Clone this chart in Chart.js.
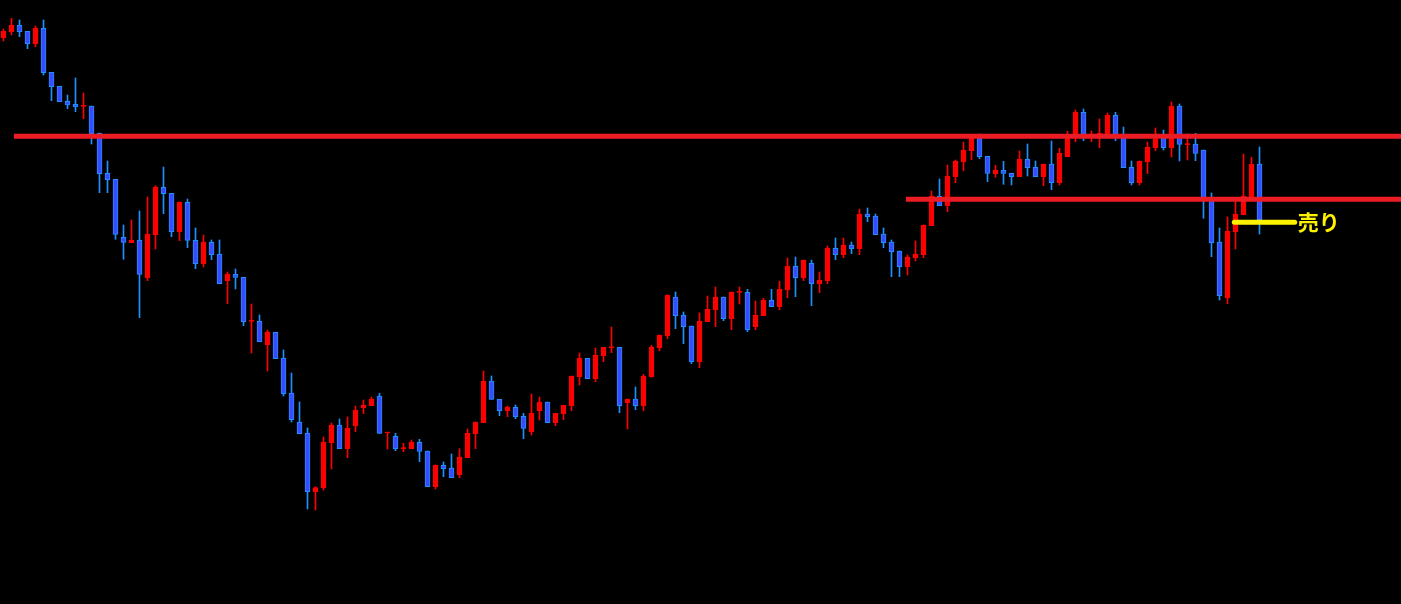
<!DOCTYPE html>
<html>
<head>
<meta charset="utf-8">
<script src="https://cdn.jsdelivr.net/npm/chart.js@4/dist/chart.umd.min.js"></script>
<style>
  html, body { margin: 0; padding: 0; background: #000; }
  #wrap { width: 1401px; height: 604px; }
</style>
</head>
<body>
<div id="wrap"><canvas id="candleChart"></canvas></div>
<script>
// OHLC per bar (price units)
var open = [
  562.3, 568.3, 574.7, 568.7, 556, 571.7, 527.7, 513.7, 498.7, 495.7,
  493.7, 494, 466.7, 426.7, 420.7, 362.7, 357.3, 360, 322.3, 365,
  412.7, 406.7, 368.3, 397.7, 359.7, 336.3, 357.7, 346, 319.3, 325.7,
  322.7, 278.7, 278.7, 255.3, 267.7, 242, 207, 178, 167, 108.3,
  112, 157.3, 175, 151.3, 174.3, 192.3, 194.3, 204, 167, 163.7,
  151.3, 151.3, 157.7, 149, 113.3, 134.7, 132, 125, 142.3, 166.3,
  177.3, 219, 200.7, 189.3, 192.7, 183.7, 168.3, 189, 198, 177.3,
  186.3, 194.3, 223.3, 241.7, 221, 244.3, 252.3, 252.7, 197.3, 201,
  194.3, 223, 252, 264.3, 303, 285, 274, 238.3, 278.3, 290.3,
  303, 281.3, 307.7, 307.7, 273.3, 284.3, 299.7, 293.3, 310.3, 333.7,
  322.3, 336.7, 316.3, 319.3, 351.7, 345.3, 355, 351.3, 386, 384,
  366, 358, 349, 333.3, 342.3, 345, 374.3, 403.7, 394.3, 423.3,
  438.3, 449, 462, 443.7, 426.3, 429.7, 426.7, 423.3, 440.7, 432.7,
  423.3, 436, 417.3, 443.3, 463.5, 487.7, 465, 464, 464, 484.7,
  464, 432.7, 417.3, 438.3, 452.3, 465, 452.3, 494, 455.3, 456,
  450, 400, 358, 302.3, 368.3, 385.3, 403, 436
];
var high = [
  571, 581.7, 580, 568.7, 574, 580, 527.7, 513.7, 505, 522,
  507, 494, 467, 439, 420.7, 375, 380, 389, 403, 414.3,
  433, 406.7, 398, 401, 372, 365, 360, 360, 328, 331,
  322.7, 296, 285, 270, 267.7, 250, 227, 198, 172, 113.3,
  163, 177, 181, 183, 194, 200, 203, 206.7, 168, 166.7,
  156.7, 160, 160.7, 149, 135, 138, 146, 151.3, 171, 178,
  229, 224, 200.7, 194, 195, 186.7, 206, 203, 198, 186.7,
  194.7, 224, 247, 241.7, 252, 252.7, 273, 252.7, 201, 213,
  225.7, 254.7, 265, 305, 308, 288, 274, 287, 304, 313,
  303, 308, 313, 310.7, 299, 301.7, 310.7, 318.7, 342, 343,
  340, 340, 328, 354, 362, 362, 358, 391, 392, 386,
  372, 360, 349, 345, 359, 375, 409, 421, 435, 440,
  458, 465, 466, 443.7, 434.7, 438.7, 426.7, 449, 456, 439,
  436, 459, 451.7, 468.7, 490, 491, 469, 481, 487, 487.7,
  473, 439, 439, 458, 472, 470, 498, 496, 466, 466.7,
  450, 407, 372, 383, 398.3, 446, 442.7, 453
];
var low = [
  559, 565, 563.3, 551.3, 553.3, 525, 499.3, 498.3, 491.3, 488.3,
  481.3, 456, 407.3, 407.3, 360.7, 340.7, 357.3, 282.3, 319.3, 351,
  386.3, 363.3, 359.3, 352.3, 331.3, 333, 340.3, 316.3, 296.3, 311,
  274.3, 247, 258.3, 229, 241.3, 204, 178, 166.3, 91, 90,
  110, 131, 151.3, 142.3, 168.3, 186.3, 194.3, 166.7, 151, 149.3,
  148.3, 151.3, 138.3, 113.3, 111, 123.3, 122.3, 122.3, 142.3, 151.3,
  177.3, 200.7, 184.3, 183.3, 181.3, 161.3, 165, 180, 177.3, 174.3,
  180.3, 189.3, 215, 221.3, 218.3, 238.3, 247.3, 187.3, 171, 190.3,
  189.3, 223, 249.3, 261.3, 271.3, 256.3, 236.3, 232.3, 278.3, 273.3,
  279.3, 270.3, 296, 268.3, 270.3, 284.3, 293.3, 290.3, 302.3, 303.3,
  319.3, 294.3, 307.3, 316.3, 340.3, 342.3, 346.3, 345.3, 378.3, 365.3,
  352.3, 323.3, 323.3, 325, 339, 342.3, 374.3, 394.3, 388.3, 417.3,
  429.3, 440.3, 441.3, 418.3, 422.7, 415.7, 415, 423.3, 424, 423.3,
  414.3, 410.3, 415, 443.3, 458.3, 459.3, 458.3, 452.3, 463, 459.3,
  432.3, 415, 415, 426.3, 449.3, 450, 443, 439, 440, 439.3,
  381.7, 343.3, 300, 296.3, 351, 385.3, 401, 366
];
var close = [
  569, 575, 568.3, 556.3, 572, 527.3, 513.3, 498.3, 495, 493.3,
  494.3, 466, 426.3, 420.3, 365.7, 357.7, 360, 325.7, 366, 413,
  406.3, 368.3, 398, 359.7, 336.3, 358, 345.3, 316.3, 326, 322.7,
  278.3, 279.3, 258.3, 268, 241.3, 206.3, 180.3, 166.3, 108.3, 112.3,
  158, 175, 151.3, 172, 190, 195, 201, 166.7, 167.7, 151.3,
  152, 158, 148.7, 113.3, 135, 131.3, 122.3, 143, 167, 178,
  219, 200.7, 189.3, 193, 183.3, 171.7, 186.7, 198, 177.3, 186.7,
  194.7, 224, 241.7, 221.3, 245, 252.7, 253, 194.3, 201, 194.3,
  224, 253, 265, 305, 284.3, 273.3, 238.3, 279, 291, 303,
  281.3, 308, 308.3, 270.3, 284.7, 299.7, 293.3, 310.7, 334, 322.3,
  340, 316.3, 320, 352, 345.3, 355, 351.3, 386, 383.3, 365.3,
  357.3, 348.3, 333.3, 343, 346, 375, 404, 394.3, 424, 439,
  450, 462.5, 443.3, 426.7, 430, 426.7, 423.3, 440.7, 432.3, 423.3,
  436, 417.3, 447, 463, 487.7, 464, 465.5, 467, 485, 464,
  432.3, 417.3, 439, 453, 461.3, 452.3, 494, 455.7, 456, 446.7,
  400, 357.3, 304.3, 369, 386, 404, 436, 380
];

// horizontal levels: price, first bar index
var resistLevel = 463.7, resistFrom = 1.3;
var supportLevel = 400.7, supportFrom = 112.8;
var sellLevel = 377.7, sellFrom = 153.85, sellTo = 161.4;
var sellLabel = '売り';

var UP = '#ff0000';
var DOWN_FILL = '#3a4bff';
var DOWN_EDGE = '#1e8fff';
var LINE_RED = '#ec1c24';
var YELLOW = '#fff200';

var xMin = -3.5 / 8;
var xMax = xMin + 1401 / 8;

var bodies = close.map(function (c, i) { return { x: i, y: [open[i], c] }; });
var wicks = close.map(function (c, i) { return { x: i, y: [low[i], high[i]] }; });
function isUp(i) { return close[i] >= open[i]; }

var sellText = {
    id: 'sellText',
    afterDatasetsDraw: function (chart) {
        var c = chart.ctx;
        var x = chart.scales.x.getPixelForValue(sellTo) + 3;
        var y = chart.scales.y.getPixelForValue(sellLevel);
        c.save();
        c.font = 'bold 21px "Noto Sans CJK JP"';
        c.fillStyle = YELLOW;
        c.textAlign = 'left';
        c.textBaseline = 'middle';
        c.fillText(sellLabel, x, y);
        c.restore();
    }
};

var ctx = document.getElementById('candleChart').getContext('2d');
var myChart = new Chart(ctx, {
    type: 'bar',
    data: {
        datasets: [
            {
                type: 'line',
                data: [{ x: resistFrom, y: resistLevel }, { x: xMax, y: resistLevel }],
                borderColor: LINE_RED,
                borderWidth: 5,
                borderCapStyle: 'butt',
                pointRadius: 0,
                order: 0
            },
            {
                type: 'line',
                data: [{ x: supportFrom, y: supportLevel }, { x: xMax, y: supportLevel }],
                borderColor: LINE_RED,
                borderWidth: 5,
                borderCapStyle: 'butt',
                pointRadius: 0,
                order: 0
            },
            {
                type: 'line',
                data: [{ x: sellFrom, y: sellLevel }, { x: sellTo, y: sellLevel }],
                borderColor: YELLOW,
                borderWidth: 5,
                borderCapStyle: 'round',
                pointRadius: 0,
                order: 0
            },
            {
                data: bodies,
                grouped: false,
                barThickness: 5,
                minBarLength: 1,
                borderWidth: 1,
                borderSkipped: false,
                backgroundColor: function (c) { return isUp(c.dataIndex) ? UP : DOWN_FILL; },
                borderColor: function (c) { return isUp(c.dataIndex) ? UP : DOWN_EDGE; },
                order: 1
            },
            {
                data: wicks,
                grouped: false,
                barThickness: 1,
                borderWidth: 0,
                backgroundColor: function (c) { return isUp(c.dataIndex) ? UP : DOWN_EDGE; },
                order: 2
            }
        ]
    },
    options: {
        responsive: true,
        maintainAspectRatio: false,
        animation: false,
        devicePixelRatio: 1,
        layout: { padding: 0 },
        plugins: { legend: { display: false }, tooltip: { enabled: false } },
        scales: {
            x: { type: 'linear', display: false, min: xMin, max: xMax, offset: false },
            y: { display: false, min: -4, max: 600 }
        }
    },
    plugins: [sellText]
});
</script>
</body>
</html>
